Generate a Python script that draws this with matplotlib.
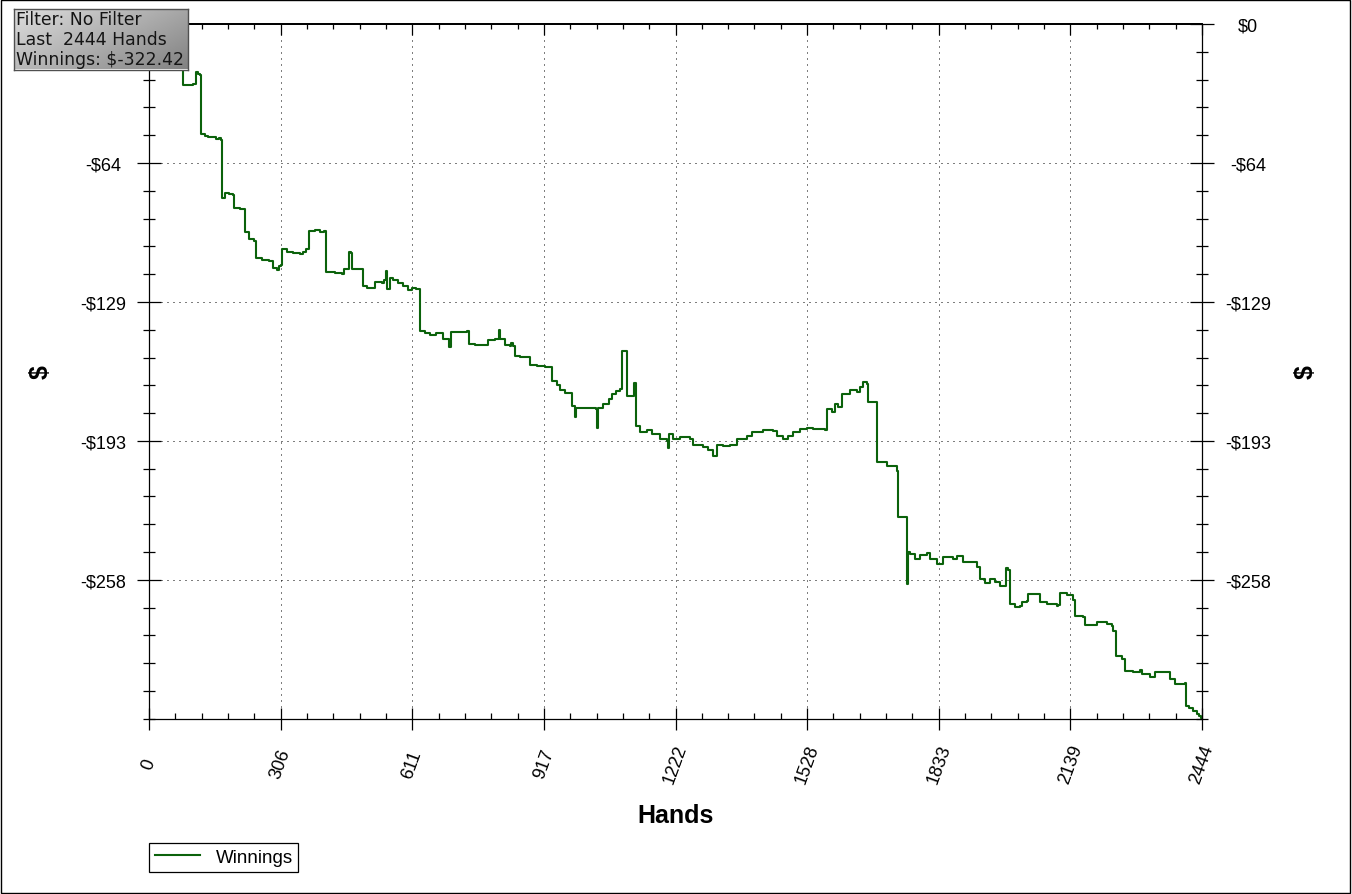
import matplotlib
matplotlib.use("Agg")
import matplotlib.pyplot as plt
import numpy as np
from matplotlib.ticker import MultipleLocator
from matplotlib.patches import Rectangle

# ---------------- data ----------------
hands = [
    0, 26, 60, 80, 80, 86, 95, 102, 108, 114,
    118, 121, 130, 137, 146, 156, 162, 166, 169, 176,
    186, 195, 197, 211, 220, 223, 232, 244, 248, 262,
    279, 288, 297, 302, 306, 308, 320, 334, 350, 357,
    364, 371, 385, 397, 406, 410, 432, 448, 453, 462,
    464, 469, 471, 483, 494, 496, 506, 525, 541, 545,
    549, 552, 559, 566, 578, 590, 601, 610, 620, 627,
    630, 641, 652, 666, 682, 696, 702, 722, 738, 742,
    757, 780, 787, 803, 810, 813, 815, 826, 838, 840,
    845, 850, 861, 880, 884, 901, 919, 933, 935, 947,
    954, 966, 977, 982, 989, 991, 1012, 1037, 1040, 1042,
    1054, 1068, 1075, 1084, 1093, 1098, 1107, 1109, 1123, 1126,
    1129, 1130, 1140, 1156, 1167, 1186, 1202, 1205, 1208, 1216,
    1232, 1256, 1263, 1286, 1297, 1309, 1318, 1332, 1349, 1365,
    1388, 1400, 1418, 1425, 1448, 1458, 1472, 1483, 1495, 1511,
    1527, 1541, 1569, 1573, 1585, 1592, 1600, 1608, 1627, 1643,
    1650, 1658, 1666, 1668, 1687, 1689, 1712, 1735, 1738, 1759,
    1760, 1761, 1766, 1778, 1789, 1805, 1813, 1828, 1844, 1867,
    1875, 1890, 1902, 1921, 1929, 1940, 1952, 1964, 1975, 1987,
    1988, 1994, 1998, 2010, 2022, 2026, 2037, 2041, 2060, 2068,
    2084, 2107, 2110, 2114, 2130, 2145, 2149, 2168, 2172, 2192,
    2200, 2223, 2234, 2238, 2244, 2258, 2265, 2285, 2300, 2304,
    2323, 2335, 2362, 2370, 2381, 2405, 2406, 2414, 2424, 2432,
    2438, 2442, 2444,
]
winnings = [
    0, -7.0, -16.2, -20.9, -28.3, -28.3, -28.5, -27.8, -22.4, -23.2,
    -23.7, -51.0, -52.0, -52.4, -52.4, -53.4, -52.9, -53.8, -80.9, -78.4,
    -78.9, -79.3, -85.4, -85.8, -85.8, -96.5, -99.8, -100.7, -108.6, -109.5,
    -110.0, -113.2, -114.1, -112.3, -111.8, -104.4, -105.8, -106.3, -106.7, -105.8,
    -104.4, -96.0, -95.6, -96.5, -96.0, -115.1, -115.5, -116.0, -113.7, -113.7,
    -105.8, -106.3, -113.7, -113.7, -113.7, -121.6, -122.5, -119.7, -120.2, -118.8,
    -114.5, -123.0, -117.9, -118.8, -120.2, -121.6, -123.4, -122.5, -123.0, -123.0,
    -142.3, -143.4, -144.3, -143.4, -146.2, -149.9, -142.8, -142.9, -142.5, -148.5,
    -149.0, -149.0, -146.6, -146.2, -146.2, -141.9, -146.2, -149.0, -149.4, -148.0,
    -149.4, -153.9, -154.5, -154.5, -158.3, -158.7, -159.2, -159.2, -165.5, -167.5,
    -169.8, -171.2, -171.2, -177.1, -182.4, -178.2, -178.2, -178.6, -187.6, -178.2,
    -176.3, -174.0, -171.7, -170.3, -169.4, -151.6, -151.7, -172.5, -172.6, -166.6,
    -166.6, -186.4, -189.3, -188.3, -190.2, -192.6, -193.5, -196.9, -190.2, -192.6,
    -191.6, -192.6, -195.4, -196.3, -197.7, -200.3, -195.4, -195.8, -195.4, -192.6,
    -191.0, -189.2, -189.5, -188.4, -188.8, -191.0, -192.6, -191.0, -189.5, -187.9,
    -187.7, -187.9, -188.3, -178.6, -180.0, -176.3, -177.9, -171.7, -169.8, -170.6,
    -168.4, -166.3, -167.0, -175.5, -175.5, -203.4, -205.0, -207.3, -228.9, -229.7,
    -259.8, -245.2, -245.9, -248.3, -246.4, -245.5, -248.3, -250.6, -247.3, -248.3,
    -246.7, -249.8, -249.8, -252.1, -257.5, -259.4, -257.5, -258.8, -260.6, -260.6,
    -252.6, -253.2, -269.1, -270.7, -269.9, -268.1, -267.6, -264.5, -264.5, -268.1,
    -269.1, -269.9, -269.6, -264.0, -265.0, -267.3, -274.8, -275.3, -278.9, -278.9,
    -277.6, -278.4, -279.5, -281.5, -293.1, -294.7, -300.1, -300.8, -299.6, -301.6,
    -303.1, -300.5, -300.5, -303.9, -306.2, -305.8, -316.3, -317.4, -318.6, -320.0,
    -321.0, -321.9, -322.42,
]

total_hands = 2444
total_winnings = -322.42
x_ticks = [0, 305.5, 611, 916.5, 1222, 1527.5, 1833, 2138.5, 2444]
x_tick_labels = ["0", "306", "611", "917", "1222", "1528", "1833", "2139", "2444"]
y_ticks = [0, -64.484, -128.968, -193.452, -257.936]
y_tick_labels = ["$0", "-$64", "-$129", "-$193", "-$258"]
info_lines = ["Filter: No Filter", "Last  2444 Hands", "Winnings: $-322.42"]

# ---------------- figure ----------------
plt.rcParams["font.family"] = ["Liberation Sans", "DejaVu Sans"]
W, H = 1352, 895
fig = plt.figure(figsize=(W / 100, H / 100), dpi=100)
fig.patch.set_facecolor("white")


def fx(px):
    return px / W


def fy(py):
    return 1 - py / H


GREEN = "#0b620b"
ax = fig.add_axes([fx(149), fy(719.8), fx(1202) - fx(149), fy(25) - fy(719.8)])
ax.plot(hands, winnings, color=GREEN, lw=1.5, label="Winnings",
        drawstyle="steps-post")
ax.set_xlim(0, total_hands)
ax.set_ylim(total_winnings, 0)

for s in ax.spines.values():
    s.set_linewidth(0.9)
ax.spines["top"].set_linewidth(1.3)

# grid
ax.set_axisbelow(True)
ax.grid(True, which="major", color="black", lw=0.72, linestyle=(0, (1, 5)))

# x ticks
ax.set_xticks(x_ticks)
ax.set_xticklabels(x_tick_labels)
ax.xaxis.set_minor_locator(MultipleLocator(total_hands / 40))
ax.tick_params(axis="x", which="major", direction="inout", length=16.5, width=0.9,
               top=False, labelsize=13, pad=24, labelrotation=70)
ax.tick_params(axis="x", which="minor", direction="in", length=4.3, width=0.9, top=False)
for lab in ax.get_xticklabels():
    lab.set_horizontalalignment("center")
    lab.set_verticalalignment("center")

# y ticks (both sides)
ax.set_yticks(y_ticks)
ax.set_yticklabels(y_tick_labels)
ax.yaxis.set_minor_locator(MultipleLocator(-total_winnings / 25))
ax.tick_params(axis="y", which="major", direction="inout", length=17, width=0.9,
               left=True, right=True, labelleft=True, labelright=True,
               labelsize=13, pad=24.5)
ax.tick_params(axis="y", which="minor", direction="inout", length=8.6, width=0.9,
               left=True, right=True)
for i, t in enumerate(ax.yaxis.get_major_ticks()):
    t.label1.set_horizontalalignment("center")
    t.label2.set_horizontalalignment("center")
    if i == 0:
        # the left "$0" label sits under the info box in the original
        t.label1.set_visible(False)

# top ticks (inward)
sec = ax.secondary_xaxis("top")
sec.set_xticks(x_ticks)
sec.set_xticklabels([])
sec.xaxis.set_minor_locator(MultipleLocator(total_hands / 40))
sec.tick_params(which="major", direction="in", length=8, width=0.9)
sec.tick_params(which="minor", direction="in", length=3.6, width=0.9)
sec.spines["top"].set_linewidth(1.3)

# axis titles
fig.text(fx(675.5), fy(816), "Hands", fontsize=18, fontweight="bold",
         ha="center", va="center")
fig.text(fx(41), fy(372), "$", fontsize=18, fontweight="bold", rotation=90,
         ha="center", va="center")
fig.text(fx(1306), fy(372), "$", fontsize=18, fontweight="bold", rotation=90,
         ha="center", va="center")

# legend
leg = fig.legend(loc="upper left", bbox_to_anchor=(fx(149), fy(844.3)),
                 bbox_transform=fig.transFigure, fontsize=13.5, frameon=True,
                 fancybox=False, edgecolor="black", framealpha=1,
                 borderpad=0.3, handlelength=2.4, handletextpad=0.85,
                 borderaxespad=0)
leg.get_frame().set_linewidth(0.9)

# info box with gradient
bax = fig.add_axes([fx(14), fy(70.5), fx(188) - fx(14), fy(9.5) - fy(70.5)], zorder=10)
u = np.linspace(0, 1, 200)[None, :]
v = np.linspace(0, 1, 60)[:, None]
grad = 0.87 - 0.22 * u - 0.14 * v
bax.imshow(grad, cmap="gray", vmin=0, vmax=1, aspect="auto", extent=(0, 1, 0, 1),
           interpolation="bilinear")
bax.set_xticks([])
bax.set_yticks([])
for s in bax.spines.values():
    s.set_color("#505050")
    s.set_linewidth(1.0)
for i, line in enumerate(info_lines):
    fig.text(fx(16), fy(20 + 20 * i), line, fontsize=12.4, family="DejaVu Sans",
             color="#151515", ha="left", va="center", zorder=11)

# outer frame
fig.add_artist(Rectangle((fx(0.5), fy(893.5)), fx(1349.5) - fx(0.5), fy(0.5) - fy(893.5),
                         transform=fig.transFigure, fill=False, ec="black", lw=1.0))

fig.savefig("out.png", dpi=100)
